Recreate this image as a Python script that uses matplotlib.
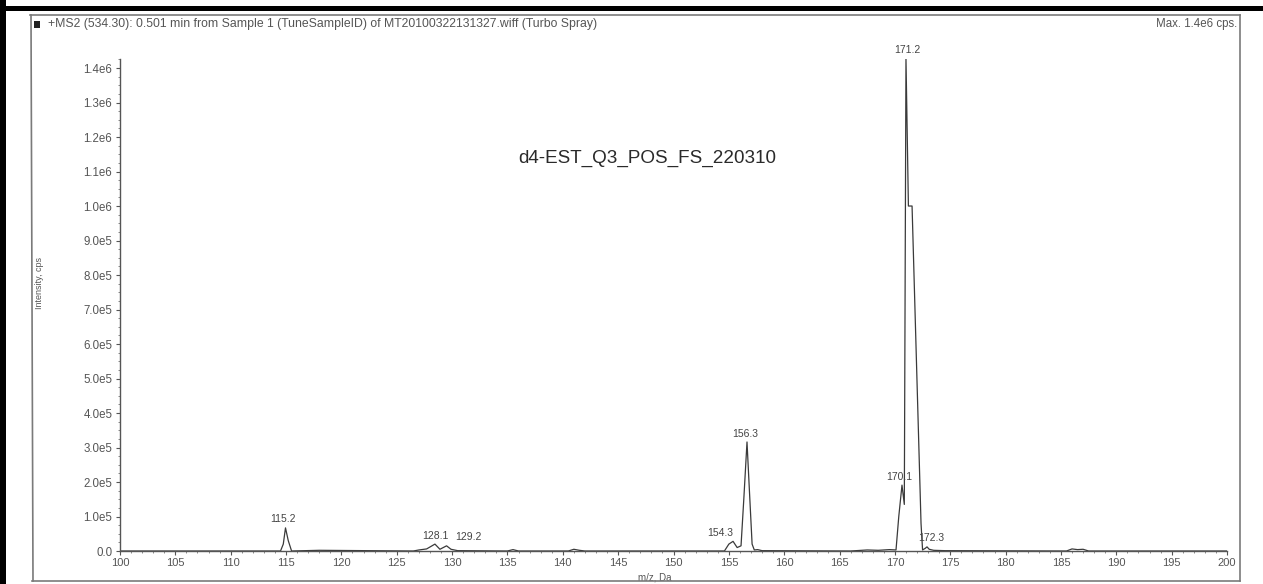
import matplotlib
matplotlib.use("Agg")
import matplotlib.pyplot as plt
from matplotlib.lines import Line2D
from matplotlib.patches import Rectangle
from matplotlib.ticker import MultipleLocator, FixedLocator, FixedFormatter

plt.rcParams['font.family'] = ['Liberation Sans', 'DejaVu Sans']

# ---------------- data (profile spectrum) ----------------
mz = [100.0, 110.5, 114.5, 114.75, 114.95, 115.2, 115.5, 118.0,
      126.5, 127.0, 127.7, 128.45, 128.9, 129.5, 129.9, 130.5,
      135.0, 135.5, 136.0, 140.5, 141.0, 141.5, 142.0,
      154.6, 155.0, 155.38, 155.75, 156.1, 156.35, 156.64, 156.85, 157.1, 157.3, 157.6, 158.0,
      166.0, 167.5, 168.5, 169.5, 170.1, 170.35, 170.64, 170.85, 171.0, 171.22, 171.55,
      172.36, 172.5, 172.75, 172.9, 173.1, 173.5, 174.5,
      185.5, 186.0, 186.5, 187.0, 187.5, 200.0]
intensity = [0, 0, 0, 2.0e4, 6.7e4, 3.0e4, 0, 2.0e3,
             0, 3.0e3, 6.0e3, 2.0e4, 5.0e3, 1.5e4, 5.0e3, 1.0e3,
             0, 4.0e3, 0, 0, 5.0e3, 2.0e3, 0,
             0, 2.0e4, 2.8e4, 1.0e4, 1.5e4, 1.5e5, 3.16e5, 1.8e5, 2.0e4, 3.0e3, 4.0e3, 1.0e3,
             0, 3.0e3, 2.0e3, 4.0e3, 3.0e3, 1.0e5, 1.91e5, 1.35e5, 1.429e6, 1.0e6, 1.0e6,
             8.0e4, 3.0e3, 8.0e3, 1.2e4, 5.0e3, 2.0e3, 1.0e3,
             0, 6.0e3, 4.0e3, 5.0e3, 0, 0]

peak_labels = ["115.2", "128.1", "129.2", "154.3", "156.3", "170.1", "171.2", "172.3"]
peak_mz = [114.95, 128.45, 129.5, 155.38, 156.64, 170.64, 171.0, 172.9]
peak_int = [6.7e4, 2.0e4, 1.5e4, 2.8e4, 3.16e5, 1.91e5, 1.429e6, 1.2e4]

x_ticks = list(range(100, 201, 5))
y_ticks = [0, 1e5, 2e5, 3e5, 4e5, 5e5, 6e5, 7e5, 8e5, 9e5, 1e6, 1.1e6, 1.2e6, 1.3e6, 1.4e6]
y_tick_labels = ["0.0", "1.0e5", "2.0e5", "3.0e5", "4.0e5", "5.0e5", "6.0e5", "7.0e5",
                 "8.0e5", "9.0e5", "1.0e6", "1.1e6", "1.2e6", "1.3e6", "1.4e6"]

header = "+MS2 (534.30): 0.501 min from Sample 1 (TuneSampleID) of MT20100322131327.wiff (Turbo Spray)"
max_text = "Max. 1.4e6 cps."
sample_name = "d4-EST_Q3_POS_FS_220310"

# ---------------- figure ----------------
W, H = 1263, 584
fig = plt.figure(figsize=(W / 100, H / 100), dpi=100)
fig.patch.set_facecolor('white')

def fx(px):
    return px / W

def fy(py):
    return 1 - py / H

# outer scanned black edges (top and left)
fig.add_artist(Rectangle((0, fy(11)), 1, fy(6) - fy(11), transform=fig.transFigure,
                         color='black', lw=0))
fig.add_artist(Rectangle((0, 0), fx(6), 1, transform=fig.transFigure, color='black', lw=0))

# inner grey panel box
box_col = '#7a7a7a'
fig.add_artist(Line2D([fx(30), fx(1240)], [fy(15), fy(15)], transform=fig.transFigure,
                      color=box_col, lw=1.2))
fig.add_artist(Line2D([fx(32), fx(1240)], [fy(581), fy(581)], transform=fig.transFigure,
                      color=box_col, lw=1.2))
fig.add_artist(Line2D([fx(31), fx(33)], [fy(15), fy(581)], transform=fig.transFigure,
                      color=box_col, lw=1.2))
fig.add_artist(Line2D([fx(1240), fx(1240)], [fy(15), fy(581)], transform=fig.transFigure,
                      color=box_col, lw=1.2))

# header
fig.add_artist(Rectangle((fx(34), fy(28)), fx(6), fy(21) - fy(28), transform=fig.transFigure,
                         color='#222222', lw=0))
fig.text(fx(48), fy(24), header, fontsize=8.8, color='#555555', va='center', ha='left')
fig.text(fx(1237), fy(24), max_text, fontsize=8.3, color='#555555', va='center', ha='right')

# axes
ax = fig.add_axes([fx(120), fy(551), fx(1227) - fx(120), fy(59.4) - fy(551)])
ax.plot(mz, intensity, color='#3a3a3a', lw=0.9)
ax.set_xlim(100, 200)
ax.set_ylim(0, 1.425e6)

for s in ['top', 'right']:
    ax.spines[s].set_visible(False)
for s in ['left', 'bottom']:
    ax.spines[s].set_color('#555555')
    ax.spines[s].set_linewidth(1.0)

ax.xaxis.set_major_locator(FixedLocator(x_ticks))
ax.xaxis.set_minor_locator(MultipleLocator(1))
ax.yaxis.set_major_locator(FixedLocator(y_ticks))
ax.yaxis.set_major_formatter(FixedFormatter(y_tick_labels))
ax.yaxis.set_minor_locator(MultipleLocator(2.5e4))
ax.tick_params(axis='both', which='major', direction='out', length=3, width=0.8,
               colors='#555555', labelsize=8, labelcolor='#555555', pad=2)
ax.tick_params(axis='both', which='minor', direction='out', length=1.5, width=0.6,
               colors='#777777')
ax.tick_params(axis='y', which='major', labelsize=8.3, pad=2.5)

ax.set_xlabel("m/z, Da", fontsize=7, color='#555555', labelpad=1)
ax.xaxis.set_label_coords((655 - 120) / (1227 - 120), -(573 - 551) / (551 - 59.4))
ax.set_ylabel("Intensity, cps", fontsize=6.5, color='#555555')
ax.yaxis.set_label_coords(-(120 - 44) / (1227 - 120), (551 - 283) / (551 - 59.4))

# peak labels
label_dx = [-2, 0, 16, -9, -1, -2, 1, 3]
for lab, xm, yi, dx in zip(peak_labels, peak_mz, peak_int, label_dx):
    ax.annotate(lab, (xm, yi), xytext=(dx, 2.5), textcoords='offset points',
                ha='center', va='bottom', fontsize=7.5, color='#444444',
                annotation_clip=False)

# sample name
ax.text(fx(518), fy(158), sample_name, transform=fig.transFigure, fontsize=13.6,
        color='#2a2a2a', ha='left', va='center')

fig.savefig("out.png", dpi=100, facecolor='white')
